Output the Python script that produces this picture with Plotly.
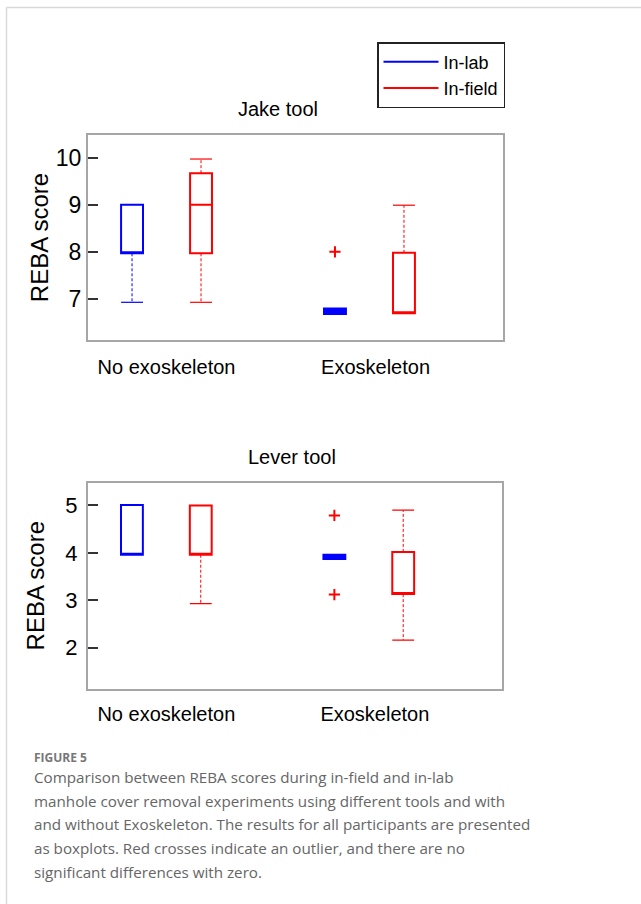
import plotly.graph_objects as go

W, H = 641, 904

categories = ["No exoskeleton", "Exoskeleton"]

# Jake tool
jake_lab_q1 = [7.97, 6.68]
jake_lab_med = [7.97, 6.74]
jake_lab_q3 = [9.00, 6.80]
jake_lab_lo = [6.93, None]
jake_lab_hi = [None, None]
jake_lab_out = [[], [8.0]]

jake_field_q1 = [7.97, 6.70]
jake_field_med = [9.00, 6.70]
jake_field_q3 = [9.67, 7.98]
jake_field_lo = [6.93, None]
jake_field_hi = [9.97, 8.99]
jake_field_out = [[], []]

# Lever tool
lever_lab_q1 = [3.96, 3.87]
lever_lab_med = [3.96, 3.92]
lever_lab_q3 = [5.01, 3.96]
lever_lab_lo = [None, None]
lever_lab_hi = [None, None]
lever_lab_out = [[], [4.79, 3.12]]

lever_field_q1 = [3.96, 3.13]
lever_field_med = [3.96, 3.13]
lever_field_q3 = [5.00, 4.02]
lever_field_lo = [2.93, 2.16]
lever_field_hi = [None, 4.90]
lever_field_out = [[], []]

jake_yticks = [7, 8, 9, 10]
lever_yticks = [2, 3, 4, 5]

BLUE = "#0000ff"
RED = "#ff0000"
OFFSET = 0.17
BW = 0.108

fig = go.Figure()


def add_series(q1, med, q3, lo, hi, outs, color, off, xa, ya, filled_idx=()):
    for i in range(len(categories)):
        xc = i + off
        fill = color if i in filled_idx else "rgba(255,255,255,0)"
        fig.add_trace(go.Box(
            x=[xc], q1=[q1[i]], median=[med[i]], q3=[q3[i]],
            width=BW, fillcolor=fill, line=dict(color=color, width=2),
            whiskerwidth=0, boxpoints=False, showlegend=False,
            hoverinfo="skip", xaxis=xa, yaxis=ya))
        for fence, base in ((lo[i], q1[i]), (hi[i], q3[i])):
            if fence is None:
                continue
            fig.add_trace(go.Scatter(
                x=[xc, xc], y=[base, fence], mode="lines",
                line=dict(color=color, width=1, dash="3px,2px"),
                showlegend=False, hoverinfo="skip", xaxis=xa, yaxis=ya))
            fig.add_trace(go.Scatter(
                x=[xc - BW / 2, xc + BW / 2], y=[fence, fence], mode="lines",
                line=dict(color=color, width=1.2),
                showlegend=False, hoverinfo="skip", xaxis=xa, yaxis=ya))
        if outs[i]:
            fig.add_trace(go.Scatter(
                x=[xc] * len(outs[i]), y=outs[i], mode="markers",
                marker=dict(symbol="cross-thin", size=8, color=RED,
                            line=dict(color=RED, width=2)),
                showlegend=False, hoverinfo="skip", xaxis=xa, yaxis=ya))


add_series(jake_lab_q1, jake_lab_med, jake_lab_q3, jake_lab_lo, jake_lab_hi,
           jake_lab_out, BLUE, -OFFSET, "x", "y", filled_idx=(1,))
add_series(jake_field_q1, jake_field_med, jake_field_q3, jake_field_lo,
           jake_field_hi, jake_field_out, RED, OFFSET, "x", "y")
add_series(lever_lab_q1, lever_lab_med, lever_lab_q3, lever_lab_lo, lever_lab_hi,
           lever_lab_out, BLUE, -OFFSET, "x2", "y2", filled_idx=(1,))
add_series(lever_field_q1, lever_field_med, lever_field_q3, lever_field_lo,
           lever_field_hi, lever_field_out, RED, OFFSET, "x2", "y2")

# legend entries
fig.add_trace(go.Scatter(x=[None], y=[None], mode="lines", name="In-lab",
                         line=dict(color=BLUE, width=2)))
fig.add_trace(go.Scatter(x=[None], y=[None], mode="lines", name="In-field",
                         line=dict(color=RED, width=2)))

FONT = "Liberation Sans, Arial, sans-serif"


def px_x(p):
    return p / W


def px_y(p):
    return 1 - p / H


xcommon = dict(range=[-0.387, 1.658], tickvals=[0, 1.03], ticktext=categories,
               ticks="", showline=True, mirror=True, linecolor="#a6a6a6",
               linewidth=2, showgrid=False, zeroline=False,
               tickfont=dict(family=FONT, size=20, color="black"),
               fixedrange=True)
ycommon = dict(ticks="inside", ticklen=10, tickwidth=1.5, tickcolor="#333333",
               showline=True, mirror=True, linecolor="#a6a6a6", linewidth=2,
               showgrid=False, zeroline=False, fixedrange=True)

fig.update_layout(
    width=W, height=H, margin=dict(l=0, r=0, t=0, b=0),
    paper_bgcolor="white", plot_bgcolor="white",
    xaxis=dict(domain=[px_x(88), px_x(503)], anchor="y", ticklabelstandoff=8,
               **xcommon),
    yaxis=dict(domain=[px_y(340), px_y(135)], anchor="x", range=[6.13, 10.48],
               tickvals=jake_yticks, ticklabelstandoff=0,
               tickfont=dict(family=FONT, size=23, color="black"),
               title=dict(text="REBA score",
                          font=dict(family=FONT, size=24, color="black"),
                          standoff=0),
               **ycommon),
    xaxis2=dict(domain=[px_x(88), px_x(502)], anchor="y2", ticklabelstandoff=6,
                **xcommon),
    yaxis2=dict(domain=[px_y(688.7), px_y(482.7)], anchor="x2",
                range=[1.135, 5.48], tickvals=lever_yticks, ticklabelstandoff=4,
                tickfont=dict(family=FONT, size=22, color="black"),
                title=dict(text="REBA score",
                           font=dict(family=FONT, size=24, color="black"),
                           standoff=14),
                **ycommon),
    showlegend=True,
    legend=dict(x=px_x(377), y=px_y(42), xanchor="left", yanchor="top",
                bordercolor="#222222", borderwidth=1.5, bgcolor="white",
                font=dict(family=FONT, size=18, color="black"),
                itemwidth=55, tracegroupgap=0),
)

annotations = [
    dict(text="Jake tool", x=px_x(278), y=px_y(109), font=dict(size=20)),
    dict(text="Lever tool", x=px_x(292), y=px_y(457), font=dict(size=20)),
]
for a in annotations:
    a.update(xref="paper", yref="paper", showarrow=False, xanchor="center",
             yanchor="middle")
    a["font"].update(family=FONT, color="black")
    fig.add_annotation(**a)

CAP_FONT = "Open Sans, Noto Sans, sans-serif"
fig.add_annotation(text="<b>FIGURE 5</b>", x=px_x(32), y=px_y(757),
                   xref="paper", yref="paper", showarrow=False,
                   xanchor="left", yanchor="middle",
                   font=dict(family=CAP_FONT, size=12, color="#777777"))
caption_lines = [
    "Comparison between REBA scores during in-field and in-lab",
    "manhole cover removal experiments using different tools and with",
    "and without Exoskeleton. The results for all participants are presented",
    "as boxplots. Red crosses indicate an outlier, and there are no",
    "significant differences with zero.",
]
for k, line in enumerate(caption_lines):
    fig.add_annotation(text=line, x=px_x(32), y=px_y(777 + 23.7 * k),
                       xref="paper", yref="paper", showarrow=False,
                       xanchor="left", yanchor="middle",
                       font=dict(family=CAP_FONT, size=15.2, color="#666666"))

# outer frame
fig.add_shape(type="line", xref="paper", yref="paper", x0=px_x(6.5), x1=1,
              y0=px_y(7.5), y1=px_y(7.5), line=dict(color="#d9d9d9", width=1.5))
fig.add_shape(type="line", xref="paper", yref="paper", x0=px_x(6.5),
              x1=px_x(6.5), y0=px_y(7.5), y1=0,
              line=dict(color="#d9d9d9", width=1.5))

fig.write_html("out.html")
